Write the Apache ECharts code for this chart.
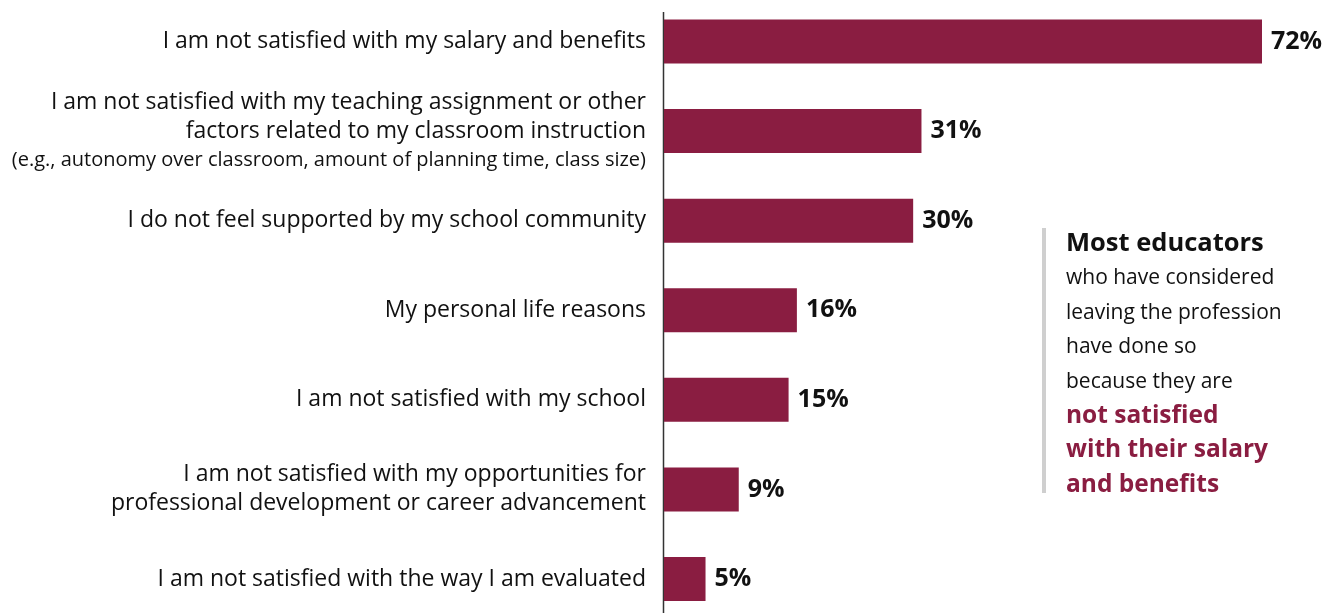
<!DOCTYPE html>
<html>
<head>
<meta charset="utf-8">
<script src="https://cdn.jsdelivr.net/npm/echarts@6/dist/echarts.min.js"></script>
<style>
  html, body { margin: 0; padding: 0; background: #fff; }
  #chart { width: 1340px; height: 613px; }
</style>
</head>
<body>
<div id="chart"></div>
<script>
// Reasons educators give for considering leaving the profession
const categories = [
  'I am not satisfied with my salary and benefits',
  'I am not satisfied with my teaching assignment or other\nfactors related to my classroom instruction\n{note|(e.g., autonomy over classroom, amount of planning time, class size)}',
  'I do not feel supported by my school community',
  'My personal life reasons',
  'I am not satisfied with my school',
  'I am not satisfied with my opportunities for\nprofessional development or career advancement',
  'I am not satisfied with the way I am evaluated'
];
const shares = [72, 31, 30, 16, 15, 9, 5];

const FONT = '"Open Sans", "Liberation Sans", sans-serif';
const BAR = '#8a1d41';
const INK = '#111';

const chart = echarts.init(document.getElementById('chart'), null, { renderer: 'canvas' });

chart.setOption({
  animation: false,
  grid: { left: 664, top: 41.5, width: 598, height: 537.5, containLabel: false },
  xAxis: {
    type: 'value', min: 0, max: 72,
    show: false
  },
  yAxis: {
    type: 'category',
    data: categories,
    inverse: true,
    boundaryGap: false,
    axisLine: { show: false },
    axisTick: { show: false },
    axisLabel: {
      margin: 18,
      align: 'right',
      color: INK,
      fontFamily: FONT,
      fontSize: 23,
      lineHeight: 29,
      rich: {
        note: { fontFamily: FONT, fontSize: 20, lineHeight: 29, color: INK }
      }
    }
  },
  series: [{
    type: 'bar',
    data: shares,
    barWidth: 44,
    itemStyle: { color: BAR },
    label: {
      show: true,
      position: 'right',
      distance: 9,
      formatter: '{c}%',
      color: INK,
      fontFamily: FONT,
      fontWeight: 'bold',
      fontSize: 25
    }
  }],
  graphic: [
    {
      // vertical axis rule
      type: 'line',
      shape: { x1: 663.5, y1: 12, x2: 663.5, y2: 613 },
      style: { stroke: '#333', lineWidth: 1.5 }
    },
    {
      // callout side rule
      type: 'rect',
      shape: { x: 1042, y: 228, width: 4, height: 265 },
      style: { fill: '#cfcfcf' }
    },
    {
      type: 'text',
      left: 1066,
      top: 231,
      style: {
        text: '{b|Most educators}\n{r|who have considered}\n{r|leaving the profession}\n{r|have done so}\n{r|because they are}\n{h|not satisfied}\n{h|with their salary}\n{h|and benefits}',
        font: '22px ' + FONT,
        fill: INK,
        rich: {
          b: { fontSize: 25.5, fontWeight: 'bold', fill: INK, lineHeight: 34.4, fontFamily: FONT },
          r: { fontSize: 21, fill: INK, lineHeight: 34.4, fontFamily: FONT },
          h: { fontSize: 24.5, fontWeight: 'bold', fill: BAR, lineHeight: 34.4, fontFamily: FONT }
        }
      }
    }
  ]
});
</script>
</body>
</html>
